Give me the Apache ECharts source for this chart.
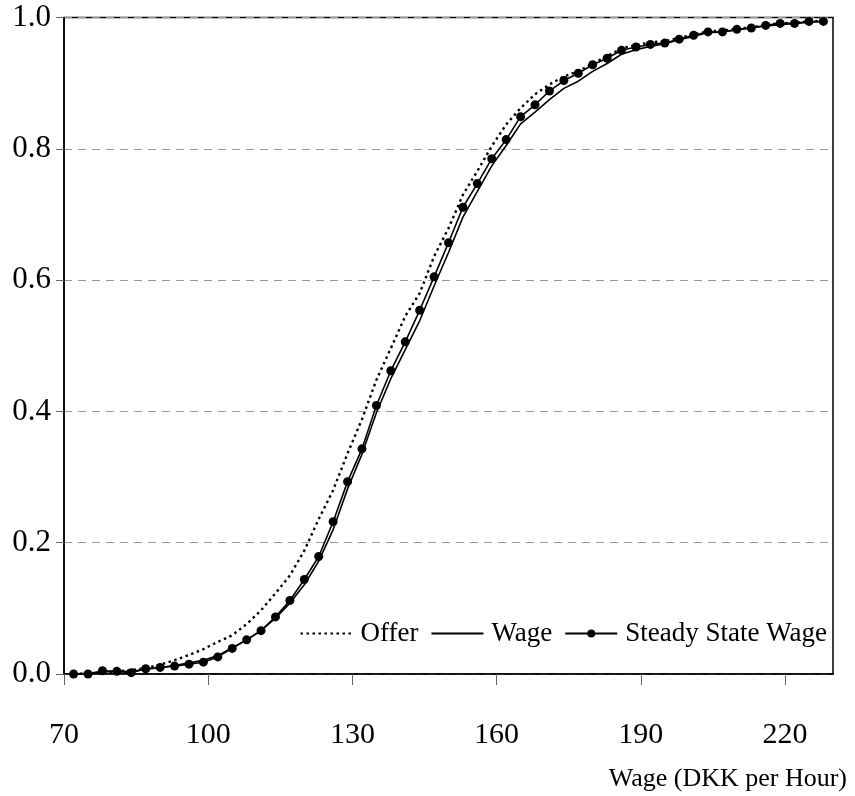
<!DOCTYPE html>
<html>
<head>
<meta charset="utf-8">
<title>Wage distributions</title>
<script src="https://cdn.jsdelivr.net/npm/echarts@6/dist/echarts.min.js"></script>
<style>
  html, body { margin: 0; padding: 0; background: #fff; }
  #chart { width: 855px; height: 796px; }
</style>
</head>
<body>
<div id="chart"></div>
<script>
// Hourly wage grid (DKK per hour)
const wages = [72, 75, 78, 81, 84, 87, 90, 93, 96, 99, 102, 105, 108, 111, 114, 117, 120,
  123, 126, 129, 132, 135, 138, 141, 144, 147, 150, 153, 156, 159, 162, 165, 168, 171,
  174, 177, 180, 183, 186, 189, 192, 195, 198, 201, 204, 207, 210, 213, 216, 219, 222, 225, 228];

// Cumulative distribution of wage offers
const offerCdf = [0.000, 0.001, 0.002, 0.004, 0.006, 0.009, 0.014, 0.021, 0.029, 0.038, 0.049,
  0.059, 0.076, 0.097, 0.123, 0.150, 0.188, 0.236, 0.280, 0.336, 0.388, 0.448, 0.496, 0.545,
  0.580, 0.636, 0.679, 0.730, 0.766, 0.804, 0.837, 0.862, 0.883, 0.898, 0.910, 0.918, 0.930,
  0.941, 0.953, 0.958, 0.962, 0.964, 0.969, 0.974, 0.979, 0.980, 0.983, 0.985, 0.989, 0.991,
  0.992, 0.994, 0.995];

// Cumulative distribution of observed wages
const wageCdf = [0.000, 0.001, 0.003, 0.004, 0.004, 0.007, 0.010, 0.013, 0.017, 0.021, 0.028,
  0.040, 0.052, 0.066, 0.085, 0.108, 0.136, 0.172, 0.220, 0.282, 0.335, 0.398, 0.450, 0.494,
  0.538, 0.591, 0.642, 0.696, 0.735, 0.774, 0.805, 0.838, 0.856, 0.875, 0.892, 0.903, 0.918,
  0.930, 0.944, 0.951, 0.956, 0.960, 0.966, 0.971, 0.977, 0.978, 0.981, 0.984, 0.987, 0.989,
  0.991, 0.993, 0.994];

// Cumulative distribution of steady state wages
const steadyStateCdf = [0.000, 0.000, 0.005, 0.004, 0.002, 0.008, 0.010, 0.012, 0.015, 0.018,
  0.026, 0.039, 0.052, 0.066, 0.087, 0.112, 0.144, 0.179, 0.232, 0.293, 0.343, 0.409, 0.462,
  0.506, 0.554, 0.605, 0.657, 0.711, 0.747, 0.785, 0.814, 0.849, 0.867, 0.888, 0.904, 0.915,
  0.928, 0.938, 0.950, 0.955, 0.959, 0.961, 0.967, 0.973, 0.978, 0.978, 0.982, 0.984, 0.988,
  0.991, 0.991, 0.994, 0.994];

// Axis ticks
const xTicks = [70, 100, 130, 160, 190, 220];
const yTicks = [0, 0.2, 0.4, 0.6, 0.8, 1.0];

const seriesNames = ['Offer', 'Wage', 'Steady State Wage'];
const xAxisTitle = 'Wage (DKK per Hour)';

const pairs = (ys) => wages.map((w, i) => [w, ys[i]]);
const FONT = '"Liberation Serif", "Times New Roman", serif';

const chart = echarts.init(document.getElementById('chart'), null, { renderer: 'canvas' });

chart.setOption({
  animation: false,
  backgroundColor: '#ffffff',
  textStyle: { fontFamily: FONT, color: '#000' },
  title: {
    text: xAxisTitle,
    right: 8,
    top: 766,
    padding: 0,
    textStyle: { fontFamily: FONT, fontSize: 26, fontWeight: 'normal', color: '#000' }
  },
  grid: {
    left: 64,
    right: 22,
    top: 17.5,
    bottom: 122,
    show: true,
    borderColor: '#000',
    borderWidth: 1.5,
    backgroundColor: 'transparent'
  },
  legend: {
    // line-only keys for the first two series, line with a dot for the last
    data: [
      { name: seriesNames[0], itemStyle: { opacity: 0 } },
      { name: seriesNames[1], itemStyle: { opacity: 0 } },
      { name: seriesNames[2] }
    ],
    right: 28,
    top: 620,
    itemWidth: 52,
    itemHeight: 10,
    itemGap: 12,
    padding: 0,
    textStyle: { fontFamily: FONT, fontSize: 27, color: '#000', padding: [0, 0, 0, 3] }
  },
  xAxis: {
    type: 'value',
    min: 70,
    max: 230,
    interval: 30,
    axisLine: { show: true, onZero: false, lineStyle: { color: '#000', width: 1.5 } },
    axisTick: { show: true, length: 11, customValues: xTicks, lineStyle: { color: '#666', width: 1 } },
    axisLabel: {
      customValues: xTicks,
      margin: 46,
      fontFamily: FONT,
      fontSize: 30,
      color: '#000'
    },
    splitLine: { show: false }
  },
  yAxis: {
    type: 'value',
    min: 0,
    max: 1,
    interval: 0.2,
    axisLine: { show: true, lineStyle: { color: '#000', width: 1.5 } },
    axisTick: { show: true, length: 8, lineStyle: { color: '#666', width: 1 } },
    axisLabel: {
      margin: 13,
      fontFamily: FONT,
      fontSize: 31,
      color: '#000',
      formatter: (v) => v.toFixed(1)
    },
    splitLine: { show: true, lineStyle: { color: '#9a9a9a', width: 1, type: [8, 6] } }
  },
  series: [
    {
      name: seriesNames[0],
      type: 'line',
      data: pairs(offerCdf),
      symbol: 'none',
      itemStyle: { color: '#000' },
      lineStyle: { color: '#000', width: 2.4, type: [2.5, 3.5] }
    },
    {
      name: seriesNames[1],
      type: 'line',
      data: pairs(wageCdf),
      symbol: 'none',
      itemStyle: { color: '#000' },
      lineStyle: { color: '#000', width: 1.6 }
    },
    {
      name: seriesNames[2],
      type: 'line',
      data: pairs(steadyStateCdf),
      symbol: 'circle',
      symbolSize: 9,
      itemStyle: { color: '#000' },
      lineStyle: { color: '#000', width: 1.6 }
    }
  ]
});
</script>
</body>
</html>
